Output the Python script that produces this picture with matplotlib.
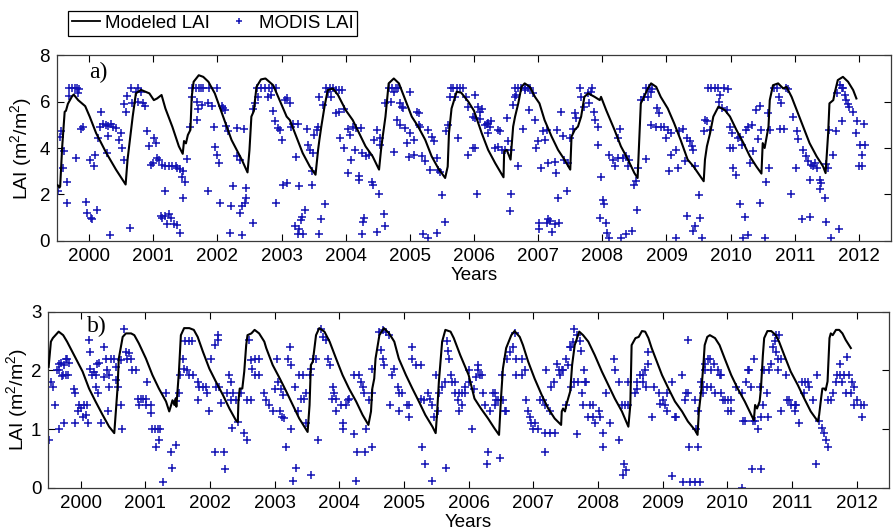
import matplotlib
matplotlib.use("Agg")
import matplotlib.pyplot as plt
from matplotlib.lines import Line2D

plt.rcParams['font.family'] = ['Liberation Sans', 'DejaVu Sans']
plt.rcParams['mathtext.fontset'] = 'custom'
plt.rcParams['mathtext.rm'] = 'Liberation Sans'

# ---------------- panel a) : modeled LAI ----------------
a_model_year = [1999.51, 1999.54, 1999.55, 1999.58, 1999.62, 1999.64, 1999.67, 1999.73, 1999.76,
                1999.83, 1999.94, 2000.01, 2000.11, 2000.27, 2000.42, 2000.57, 2000.60, 2000.68,
                2000.73, 2000.81, 2000.94, 2001.01, 2001.06, 2001.13, 2001.19, 2001.30, 2001.40,
                2001.46, 2001.48, 2001.51, 2001.54, 2001.58, 2001.60, 2001.63, 2001.71, 2001.78,
                2001.86, 2001.96, 2002.07, 2002.22, 2002.38, 2002.47, 2002.50, 2002.53, 2002.57,
                2002.58, 2002.61, 2002.68, 2002.75, 2002.87, 2002.97, 2003.08, 2003.13, 2003.23,
                2003.33, 2003.44, 2003.53, 2003.57, 2003.59, 2003.62, 2003.67, 2003.72, 2003.80,
                2003.88, 2004.00, 2004.11, 2004.21, 2004.31, 2004.42, 2004.52, 2004.55, 2004.57,
                2004.62, 2004.67, 2004.75, 2004.83, 2004.93, 2005.03, 2005.13, 2005.24, 2005.34,
                2005.44, 2005.55, 2005.59, 2005.61, 2005.65, 2005.73, 2005.80, 2005.91, 2006.00,
                2006.12, 2006.22, 2006.33, 2006.46, 2006.47, 2006.51, 2006.57, 2006.61, 2006.64,
                2006.69, 2006.74, 2006.79, 2006.87, 2006.95, 2007.02, 2007.10, 2007.21, 2007.31,
                2007.41, 2007.50, 2007.52, 2007.57, 2007.62, 2007.67, 2007.72, 2007.78, 2007.88,
                2007.96, 2007.98, 2008.06, 2008.19, 2008.29, 2008.40, 2008.50, 2008.55, 2008.58,
                2008.60, 2008.65, 2008.71, 2008.76, 2008.84, 2008.91, 2009.02, 2009.12, 2009.22,
                2009.33, 2009.42, 2009.58, 2009.60, 2009.63, 2009.68, 2009.73, 2009.81, 2009.91,
                2009.99, 2010.09, 2010.20, 2010.30, 2010.40, 2010.48, 2010.50, 2010.53, 2010.59,
                2010.61, 2010.66, 2010.74, 2010.82, 2010.87, 2010.95, 2011.03, 2011.13, 2011.23,
                2011.34, 2011.44, 2011.48, 2011.52, 2011.54, 2011.60, 2011.62, 2011.67, 2011.75,
                2011.83, 2011.91, 2011.96]
a_model_lai = [2.40, 2.30, 2.35, 4.00, 5.56, 5.60, 5.90, 6.20, 6.30,
               6.06, 5.80, 5.35, 4.64, 3.78, 3.07, 2.43, 3.50, 5.35,
               6.35, 6.50, 6.35, 6.06, 6.13, 6.28, 5.70, 4.90, 4.07,
               3.75, 4.30, 4.20, 4.56, 4.78, 6.20, 6.85, 7.13, 7.06,
               6.85, 6.35, 5.50, 4.35, 3.50, 2.95, 3.90, 5.35, 5.60,
               5.90, 6.63, 6.95, 6.99, 6.70, 6.06, 5.35, 5.20, 4.49,
               3.78, 3.21, 2.85, 3.92, 4.35, 4.92, 5.78, 6.49, 6.56,
               6.28, 5.63, 5.20, 4.64, 4.07, 3.64, 3.07, 3.90, 4.35,
               5.35, 6.78, 6.99, 6.78, 6.06, 5.35, 4.92, 4.35, 3.64,
               3.14, 2.71, 3.20, 4.64, 5.70, 6.42, 6.38, 6.00, 5.60,
               4.64, 3.92, 3.35, 2.74, 3.85, 3.92, 3.50, 4.92, 5.35,
               5.92, 6.63, 6.78, 6.63, 6.20, 5.92, 5.20, 4.49, 3.92,
               3.50, 3.07, 4.49, 4.78, 4.92, 5.35, 6.20, 6.35, 6.20,
               6.06, 6.20, 5.63, 4.78, 4.07, 3.50, 2.92, 2.71, 4.64,
               5.92, 6.20, 6.56, 6.78, 6.63, 6.20, 5.70, 5.06, 4.35,
               3.50, 3.21, 2.57, 3.50, 4.07, 4.64, 5.35, 5.78, 5.63,
               5.35, 4.78, 4.21, 3.64, 3.21, 2.90, 4.21, 4.00, 4.92,
               6.06, 6.70, 6.78, 6.56, 6.63, 6.20, 5.63, 4.92, 4.21,
               3.64, 3.21, 2.92, 4.64, 5.92, 6.06, 6.35, 6.92, 7.06,
               6.85, 6.49, 6.13]

# ---------------- panel a) : MODIS LAI ----------------
a_modis_year = [
    1999.52, 1999.55, 1999.57, 1999.60, 1999.61, 1999.65, 1999.66, 1999.68, 1999.69, 1999.73,
    1999.78, 1999.81, 1999.85, 1999.83, 1999.91, 1999.88, 1999.80, 2000.01, 2000.07, 2000.10,
    2000.14, 1999.95, 1999.97, 2000.03, 2000.05, 2000.12, 2000.17, 2000.22, 2000.26, 2000.29,
    2000.34, 2000.38, 2000.42, 2000.19, 2000.29, 2000.28, 2000.33, 2000.47, 2000.50, 2000.52,
    2000.55, 2000.55, 2000.58, 2000.59, 2000.64, 2000.65, 2000.76, 2000.73, 2000.81, 2000.67,
    2000.76, 2000.84, 2000.87, 2000.91, 2000.94, 2000.96, 2000.99, 2001.01, 2001.04, 2001.06,
    2001.09, 2001.14, 2001.19, 2001.24, 2001.30, 2001.35, 2001.37, 2001.42, 2001.46, 2001.45,
    2001.49, 2001.47, 2001.53, 2001.19, 2001.12, 2001.14, 2001.19, 2001.24, 2001.27, 2001.22,
    2001.32, 2001.37, 2001.42, 2001.58, 2001.60, 2001.61, 2001.66, 2001.71, 2001.75, 2001.78,
    2001.87, 2001.99, 2001.68, 2001.70, 2001.68, 2001.76, 2001.85, 2001.91, 2001.94, 2001.85,
    2001.96, 2001.99, 2002.02, 2002.07, 2002.09, 2002.12, 2002.14, 2002.17, 2002.30, 2002.04,
    2002.21, 2002.35, 2002.38, 2002.43, 2002.25, 2002.31, 2002.35, 2002.20, 2002.38, 2002.44,
    2002.45, 2002.41, 2002.56, 2002.55, 2002.58, 2002.61, 2002.63, 2002.68, 2002.74, 2002.79,
    2002.81, 2002.85, 2002.91, 2002.83, 2002.87, 2002.90, 2002.95, 2002.97, 2003.00, 2003.05,
    2003.08, 2003.13, 2003.15, 2003.18, 2003.26, 2003.22, 2003.02, 2003.09, 2002.91, 2003.27,
    2003.39, 2003.41, 2003.44, 2003.49, 2003.47, 2003.47, 2003.36, 2003.32, 2003.31, 2003.28,
    2003.21, 2003.26, 2003.34, 2003.59, 2003.62, 2003.67, 2003.51, 2003.55, 2003.57, 2003.59,
    2003.64, 2003.69, 2003.75, 2003.80, 2003.85, 2003.90, 2003.94, 2003.72, 2003.77, 2003.85,
    2003.90, 2003.98, 2004.03, 2004.06, 2004.11, 2004.16, 2004.24, 2003.91, 2003.98, 2004.08,
    2004.15, 2004.26, 2004.31, 2004.36, 2004.04, 2004.21, 2004.21, 2004.41, 2004.43, 2004.52,
    2004.44, 2004.54, 2004.53, 2004.49, 2004.29, 2004.27, 2004.26, 2004.49, 2004.61, 2004.60,
    2004.62, 2004.67, 2004.72, 2004.78, 2004.82, 2004.70, 2004.75, 2004.85, 2004.88, 2004.90,
    2004.80, 2004.85, 2004.75, 2005.00, 2004.92, 2005.01, 2004.96, 2005.11, 2005.14, 2005.06,
    2005.14, 2005.16, 2004.98, 2005.06, 2005.19, 2005.24, 2005.29, 2005.34, 2005.37, 2005.32,
    2005.42, 2005.44, 2005.47, 2005.50, 2005.21, 2005.29, 2005.42, 2005.55, 2005.57, 2005.60,
    2005.62, 2005.64, 2005.68, 2005.73, 2005.78, 2005.83, 2005.70, 2005.87, 2005.91, 2005.99,
    2005.75, 2005.99, 2005.91, 2006.01, 2006.05, 2006.07, 2006.09, 2006.12, 2006.02, 2006.09,
    2006.02, 2006.17, 2006.20, 2006.22, 2006.27, 2006.25, 2006.22, 2006.38, 2006.40, 2006.33,
    2006.37, 2006.43, 2006.48, 2006.51, 2006.53, 2006.58, 2006.61, 2006.64, 2006.58, 2006.56,
    2006.68, 2006.64, 2006.69, 2006.74, 2006.79, 2006.84, 2006.87, 2006.66, 2006.79, 2006.92,
    2006.77, 2006.85, 2006.95, 2006.97, 2007.00, 2007.05, 2007.08, 2007.10, 2007.13, 2007.16,
    2007.26, 2007.28, 2007.15, 2007.19, 2007.14, 2007.26, 2007.33, 2007.22, 2007.02, 2007.01,
    2007.31, 2007.45, 2007.35, 2007.30, 2007.39, 2007.41, 2007.46, 2007.50, 2007.55, 2007.57,
    2007.59, 2007.65, 2007.84, 2007.67, 2007.72, 2007.77, 2007.80, 2007.83, 2007.87, 2007.88,
    2007.94, 2007.94, 2007.98, 2008.01, 2008.03, 2007.97, 2008.06, 2008.08, 2008.11, 2008.27,
    2008.24, 2008.11, 2008.16, 2008.19, 2008.24, 2008.32, 2008.37, 2008.42, 2008.40, 2008.29,
    2008.37, 2008.47, 2008.52, 2008.50, 2008.54, 2008.56, 2008.68, 2008.60, 2008.65, 2008.68,
    2008.73, 2008.78, 2008.71, 2008.76, 2008.86, 2008.89, 2008.76, 2008.83, 2008.91, 2008.96,
    2008.99, 2009.02, 2009.07, 2009.07, 2009.15, 2009.04, 2009.18, 2009.20, 2009.25, 2009.15,
    2009.32, 2009.32, 2009.37, 2009.39, 2009.42, 2009.45, 2009.29, 2009.50, 2009.45, 2009.42,
    2009.52, 2009.55, 2009.60, 2009.63, 2009.59, 2009.68, 2009.65, 2009.70, 2009.76, 2009.81,
    2009.89, 2009.96, 2009.83, 2009.82, 2009.86, 2009.94, 2009.99, 2010.02, 2009.99, 2010.04,
    2010.04, 2010.09, 2010.12, 2010.15, 2010.17, 2010.24, 2010.27, 2010.33, 2010.30, 2010.35,
    2010.39, 2010.45, 2010.43, 2010.48, 2010.55, 2010.46, 2010.15, 2010.22, 2010.20, 2010.27,
    2010.53, 2010.59, 2010.61, 2010.60, 2010.67, 2010.72, 2010.86, 2010.90, 2010.75, 2010.79,
    2010.77, 2010.83, 2010.97, 2011.03, 2011.05, 2011.02, 2010.94, 2011.13, 2011.18, 2011.21,
    2011.26, 2011.28, 2011.34, 2011.31, 2011.23, 2011.39, 2011.39, 2011.41, 2011.47, 2011.12,
    2011.23, 2011.48, 2011.57, 2011.69, 2011.49, 2011.52, 2011.54, 2011.60, 2011.64, 2011.65,
    2011.70, 2011.73, 2011.75, 2011.73, 2011.78, 2011.80, 2011.83, 2011.85, 2011.91, 2011.95,
    2011.97, 2012.08, 2012.01, 2012.10, 2012.04, 2012.00, 2012.05]
a_modis_lai = [
    2.14, 4.47, 4.75, 3.14, 3.85, 1.64, 2.52, 6.23, 6.60, 6.60,
    6.60, 6.60, 6.52, 6.35, 4.92, 4.82, 3.57, 3.50, 3.24, 3.70,
    4.42, 1.67, 1.21, 1.00, 0.93, 1.33, 4.92, 5.04, 5.00, 4.95,
    5.04, 4.92, 4.85, 5.56, 4.52, 3.78, 0.24, 4.35, 4.64, 4.00,
    3.50, 5.90, 5.56, 6.23, 0.54, 6.60, 6.60, 6.42, 6.42, 5.92,
    5.99, 5.92, 5.80, 4.74, 4.07, 3.28, 3.35, 4.42, 4.21, 3.57,
    3.50, 3.28, 3.24, 3.24, 3.21, 3.21, 3.14, 3.10, 3.00, 2.74,
    2.52, 1.85, 3.52, 2.14, 1.07, 1.00, 1.07, 1.14, 1.00, 0.71,
    0.71, 0.67, 0.36, 4.89, 6.20, 6.60, 6.60, 6.60, 6.60, 6.60,
    6.60, 6.60, 6.00, 5.66, 5.20, 5.85, 5.92, 5.82, 4.92, 2.14,
    4.04, 3.71, 3.35, 5.80, 5.70, 5.63, 4.95, 4.71, 4.88, 1.64,
    1.50, 1.21, 1.50, 1.64, 2.35, 3.64, 3.50, 0.36, 0.24, 2.28,
    1.85, 4.82, 0.76, 5.68, 5.92, 6.60, 6.20, 6.60, 6.60, 6.20,
    6.60, 6.60, 6.60, 6.28, 5.60, 5.14, 4.85, 4.78, 4.35, 6.06,
    6.13, 5.92, 4.92, 5.04, 5.04, 3.61, 2.43, 2.50, 1.64, 2.35,
    4.82, 4.14, 3.92, 3.78, 3.00, 2.43, 1.33, 1.04, 0.90, 0.50,
    0.64, 0.29, 0.29, 0.29, 0.93, 1.57, 4.56, 4.78, 4.92, 6.20,
    5.85, 6.60, 6.60, 6.60, 6.49, 6.49, 6.49, 6.42, 6.20, 5.52,
    5.56, 5.66, 4.81, 4.56, 4.89, 4.85, 4.85, 4.42, 4.00, 3.50,
    3.92, 3.78, 3.64, 3.71, 2.92, 2.81, 2.61, 2.52, 2.43, 2.04,
    4.35, 4.42, 4.14, 4.78, 1.00, 0.81, 0.29, 0.39, 0.64, 1.14,
    5.92, 6.60, 6.60, 6.60, 6.60, 6.00, 6.42, 5.92, 5.75, 5.70,
    5.20, 5.00, 3.81, 6.42, 4.85, 4.64, 4.21, 5.56, 5.50, 4.35,
    5.00, 4.92, 3.61, 3.71, 3.64, 3.42, 4.78, 4.49, 4.28, 3.04,
    3.57, 3.04, 2.95, 1.97, 0.29, 0.14, 0.36, 0.83, 4.71, 5.00,
    6.20, 6.60, 6.60, 6.60, 6.60, 6.60, 6.20, 6.20, 5.78, 5.35,
    4.42, 4.00, 3.71, 6.28, 2.04, 5.78, 5.56, 5.66, 5.28, 5.24,
    4.00, 5.00, 5.04, 5.09, 5.14, 4.92, 4.64, 4.78, 4.71, 4.00,
    4.04, 3.92, 3.92, 5.28, 4.28, 3.92, 5.85, 6.20, 2.04, 1.31,
    3.24, 6.60, 6.60, 6.60, 6.60, 6.60, 6.60, 6.28, 6.49, 6.35,
    4.81, 5.63, 5.21, 4.00, 4.28, 3.14, 4.71, 4.35, 4.78, 3.35,
    3.38, 2.92, 0.93, 0.86, 0.78, 0.71, 0.78, 0.39, 0.76, 0.50,
    1.85, 2.14, 5.53, 4.78, 4.52, 3.47, 3.35, 4.42, 4.81, 5.49,
    5.31, 6.60, 6.60, 6.20, 5.78, 6.35, 5.92, 6.42, 5.56, 5.20,
    4.89, 4.14, 2.74, 1.78, 1.57, 1.00, 0.78, 0.36, 0.14, 4.82,
    4.42, 3.71, 3.50, 3.21, 3.57, 3.57, 3.64, 3.50, 3.21, 0.14,
    0.29, 0.43, 2.57, 2.43, 1.33, 3.14, 3.52, 6.06, 6.20, 6.60,
    6.60, 6.52, 6.20, 6.42, 5.70, 5.49, 5.00, 4.92, 4.92, 4.92,
    4.42, 4.78, 4.66, 3.71, 3.92, 3.00, 3.14, 4.75, 4.81, 0.14,
    1.07, 4.42, 4.28, 4.07, 3.92, 3.21, 3.42, 1.97, 0.64, 0.43,
    1.00, 0.14, 5.21, 5.14, 4.75, 4.78, 6.56, 6.60, 6.60, 6.60,
    6.60, 6.52, 6.28, 5.99, 5.70, 5.63, 4.92, 4.64, 4.00, 4.00,
    3.14, 2.85, 4.42, 4.47, 4.14, 4.78, 4.89, 5.00, 3.35, 3.85,
    5.63, 5.80, 4.38, 4.78, 2.52, 1.64, 1.57, 1.03, 0.14, 0.24,
    0.14, 5.49, 4.78, 3.14, 6.60, 6.60, 6.60, 6.52, 6.20, 5.92,
    4.82, 4.81, 5.35, 4.75, 4.38, 3.14, 2.04, 3.92, 3.64, 3.42,
    3.28, 3.21, 3.14, 3.35, 2.64, 2.64, 2.24, 2.50, 1.83, 0.93,
    1.04, 0.83, 0.14, 0.53, 3.32, 3.14, 4.78, 3.71, 4.74, 6.35,
    6.70, 6.60, 6.60, 5.14, 6.28, 6.06, 5.89, 5.78, 5.56, 4.64,
    5.14, 5.04, 4.14, 4.14, 3.71, 3.24, 3.24]

# ---------------- panel b) : modeled LAI ----------------
b_model_year = [1999.505, 1999.54, 1999.57, 1999.66, 1999.73, 1999.79, 1999.87, 1999.95, 2000.03,
                2000.13, 2000.23, 2000.34, 2000.44, 2000.52, 2000.54, 2000.57, 2000.59, 2000.65,
                2000.70, 2000.78, 2000.83, 2000.90, 2001.01, 2001.11, 2001.21, 2001.32, 2001.37,
                2001.40, 2001.42, 2001.45, 2001.47, 2001.48, 2001.52, 2001.55, 2001.60, 2001.68,
                2001.75, 2001.81, 2001.89, 2001.99, 2002.09, 2002.20, 2002.30, 2002.40, 2002.43,
                2002.44, 2002.46, 2002.50, 2002.53, 2002.56, 2002.58, 2002.64, 2002.69, 2002.76,
                2002.84, 2002.87, 2002.97, 2003.08, 2003.18, 2003.28, 2003.38, 2003.51, 2003.54,
                2003.56, 2003.59, 2003.64, 2003.69, 2003.77, 2003.85, 2003.95, 2004.05, 2004.15,
                2004.26, 2004.36, 2004.45, 2004.49, 2004.51, 2004.54, 2004.56, 2004.62, 2004.69,
                2004.77, 2004.85, 2004.92, 2005.03, 2005.13, 2005.23, 2005.33, 2005.44, 2005.49,
                2005.51, 2005.54, 2005.59, 2005.64, 2005.72, 2005.77, 2005.87, 2006.00, 2006.09,
                2006.19, 2006.30, 2006.40, 2006.47, 2006.50, 2006.53, 2006.58, 2006.66, 2006.71,
                2006.79, 2006.84, 2006.92, 2007.02, 2007.13, 2007.23, 2007.33, 2007.43, 2007.44,
                2007.46, 2007.49, 2007.51, 2007.57, 2007.60, 2007.64, 2007.71, 2007.77, 2007.85,
                2007.95, 2008.06, 2008.16, 2008.26, 2008.37, 2008.47, 2008.50, 2008.52, 2008.58,
                2008.63, 2008.68, 2008.73, 2008.78, 2008.83, 2008.91, 2008.99, 2009.09, 2009.19,
                2009.30, 2009.39, 2009.50, 2009.54, 2009.56, 2009.60, 2009.63, 2009.65, 2009.69,
                2009.73, 2009.81, 2009.88, 2009.96, 2010.06, 2010.16, 2010.27, 2010.37, 2010.41,
                2010.43, 2010.46, 2010.50, 2010.52, 2010.55, 2010.57, 2010.62, 2010.68, 2010.75,
                2010.80, 2010.88, 2010.98, 2011.09, 2011.19, 2011.29, 2011.40, 2011.42, 2011.45,
                2011.47, 2011.50, 2011.52, 2011.55, 2011.58, 2011.60, 2011.63, 2011.68, 2011.73,
                2011.78, 2011.83, 2011.91]
b_model_lai = [2.06, 2.49, 2.55, 2.66, 2.60, 2.49, 2.32, 2.15, 1.98,
               1.69, 1.47, 1.24, 1.04, 0.93, 1.24, 1.69, 2.20, 2.57,
               2.63, 2.63, 2.60, 2.46, 2.20, 1.92, 1.69, 1.47, 1.30,
               1.41, 1.49, 1.41, 1.52, 1.38, 1.98, 2.60, 2.72, 2.72,
               2.69, 2.57, 2.32, 2.03, 1.81, 1.58, 1.35, 1.15, 1.12,
               1.47, 1.69, 1.69, 1.98, 2.43, 2.60, 2.63, 2.69, 2.63,
               2.49, 2.38, 2.09, 1.86, 1.64, 1.41, 1.18, 0.95, 1.41,
               2.09, 2.15, 2.60, 2.72, 2.66, 2.49, 2.20, 1.92, 1.69,
               1.47, 1.24, 1.07, 1.30, 1.69, 1.86, 2.20, 2.60, 2.72,
               2.63, 2.49, 2.20, 1.92, 1.69, 1.47, 1.24, 1.04, 0.93,
               1.24, 1.81, 2.49, 2.69, 2.66, 2.55, 2.26, 1.92, 1.52,
               1.35, 1.18, 1.01, 0.90, 1.52, 2.03, 2.38, 2.60, 2.67,
               2.57, 2.43, 2.15, 1.86, 1.58, 1.35, 1.18, 1.07, 1.30,
               1.35, 1.30, 1.41, 1.64, 2.09, 2.43, 2.66, 2.60, 2.49,
               2.26, 1.98, 1.75, 1.52, 1.30, 1.04, 1.41, 2.43, 2.55,
               2.57, 2.67, 2.66, 2.55, 2.38, 2.15, 1.92, 1.69, 1.47,
               1.30, 1.13, 0.98, 0.90, 1.30, 1.69, 2.09, 2.43, 2.57,
               2.60, 2.55, 2.43, 2.20, 1.92, 1.69, 1.47, 1.24, 1.15,
               1.41, 1.35, 1.47, 1.69, 2.26, 2.55, 2.67, 2.67, 2.60,
               2.49, 2.26, 1.98, 1.75, 1.52, 1.30, 1.13, 1.24, 1.52,
               1.69, 1.69, 1.66, 1.81, 2.55, 2.63, 2.60, 2.69, 2.69,
               2.63, 2.52, 2.38]

# ---------------- panel b) : MODIS LAI ----------------
b_modis_year = [
    1999.51, 1999.54, 1999.57, 1999.61, 1999.63, 1999.66, 1999.67, 1999.74, 1999.71, 1999.78,
    1999.69, 1999.66, 1999.72, 1999.77, 1999.81, 1999.74, 1999.82, 1999.79, 1999.90, 1999.92,
    1999.91, 1999.97, 1999.96, 2000.00, 2000.05, 2000.10, 2000.03, 2000.08, 2000.12, 2000.15,
    2000.17, 2000.21, 2000.23, 2000.13, 2000.15, 2000.26, 2000.28, 2000.24, 2000.27, 2000.36,
    2000.39, 2000.47, 2000.52, 2000.36, 2000.41, 2000.44, 2000.54, 2000.54, 2000.57, 2000.44,
    2000.43, 2000.31, 2000.62, 2000.64, 2000.62, 2000.67, 2000.70, 2000.72, 2000.78, 2000.75,
    2000.80, 2000.85, 2001.03, 2000.88, 2000.93, 2000.97, 2001.01, 2000.90, 2001.01, 2001.09,
    2001.09, 2001.11, 2001.15, 2001.19, 2001.22, 2001.21, 2001.16, 2001.27, 2001.32, 2001.40,
    2001.42, 2001.47, 2001.48, 2001.52, 2001.53, 2001.58, 2001.60, 2001.65, 2001.68, 2001.73,
    2001.62, 2001.67, 2001.72, 2001.81, 2001.83, 2001.89, 2001.94, 2001.96, 2001.82, 2001.99,
    2002.02, 2002.08, 2002.12, 2002.12, 2002.09, 2002.14, 2002.07, 2002.22, 2002.24, 2002.17,
    2002.30, 2002.33, 2002.26, 2002.35, 2002.33, 2002.40, 2002.34, 2002.44, 2002.48, 2002.53,
    2002.57, 2002.61, 2002.64, 2002.69, 2002.76, 2002.65, 2002.69, 2002.76, 2002.84, 2002.87,
    2002.58, 2002.64, 2002.92, 2002.97, 2003.00, 2003.05, 2003.10, 2003.03, 2003.13, 2003.08,
    2003.12, 2003.15, 2003.21, 2003.23, 2003.26, 2003.18, 2003.26, 2003.31, 2003.33, 2003.29,
    2003.36, 2003.38, 2003.44, 2003.41, 2003.46, 2003.49, 2003.48, 2003.54, 2003.56, 2003.59,
    2003.64, 2003.56, 2003.67, 2003.72, 2003.75, 2003.79, 2003.82, 2003.85, 2003.90, 2003.92,
    2003.89, 2003.95, 2004.03, 2004.10, 2004.13, 2003.95, 2004.05, 2004.05, 2004.15, 2004.22,
    2004.23, 2004.31, 2004.28, 2004.40, 2004.51, 2004.26, 2004.33, 2004.36, 2004.38, 2004.41,
    2004.46, 2004.51, 2004.50, 2004.62, 2004.67, 2004.72, 2004.64, 2004.67, 2004.69, 2004.77,
    2004.82, 2004.85, 2004.79, 2004.90, 2004.92, 2004.97, 2004.92, 2005.05, 2005.08, 2005.08,
    2005.13, 2005.13, 2005.18, 2005.26, 2005.26, 2005.31, 2005.28, 2005.32, 2005.37, 2005.41,
    2005.44, 2005.43, 2005.50, 2005.54, 2005.46, 2005.53, 2005.59, 2005.64, 2005.65, 2005.67,
    2005.68, 2005.69, 2005.72, 2005.75, 2005.79, 2005.79, 2005.85, 2005.90, 2005.95, 2005.84,
    2005.85, 2005.90, 2005.95, 2006.01, 2006.01, 2006.08, 2006.11, 2006.14, 2006.05, 2006.14,
    2006.17, 2006.20, 2006.22, 2006.25, 2006.33, 2006.38, 2006.40, 2006.43, 2006.45, 2006.40,
    2006.51, 2006.53, 2006.56, 2006.58, 2006.30, 2006.29, 2006.48, 2006.60, 2006.64, 2006.69,
    2006.71, 2006.74, 2006.82, 2006.74, 2006.82, 2006.87, 2006.89, 2006.92, 2006.95, 2006.97,
    2007.02, 2007.00, 2007.07, 2007.10, 2007.15, 2007.18, 2007.18, 2007.26, 2007.33, 2007.20,
    2007.18, 2007.26, 2007.28, 2007.32, 2007.36, 2007.39, 2007.44, 2007.46, 2007.41, 2007.50,
    2007.59, 2007.63, 2007.51, 2007.57, 2007.59, 2007.62, 2007.54, 2007.63, 2007.67, 2007.72,
    2007.74, 2007.69, 2007.75, 2007.79, 2007.80, 2007.82, 2007.77, 2007.88, 2007.93, 2007.85,
    2007.93, 2008.02, 2007.95, 2008.03, 2008.08, 2008.08, 2007.67, 2008.13, 2008.19, 2008.24,
    2008.26, 2008.32, 2008.33, 2008.37, 2008.42, 2008.47, 2008.41, 2008.44, 2008.39, 2008.46,
    2008.57, 2008.61, 2008.60, 2008.65, 2008.70, 2008.73, 2008.77, 2008.78, 2008.70, 2008.74,
    2008.83, 2008.87, 2008.94, 2008.96, 2009.01, 2009.04, 2009.06, 2009.06, 2009.14, 2009.19,
    2009.21, 2009.30, 2009.15, 2009.32, 2009.39, 2009.36, 2009.40, 2009.39, 2009.34, 2009.50,
    2009.54, 2009.52, 2009.55, 2009.42, 2009.50, 2009.57, 2009.60, 2009.63, 2009.63, 2009.69,
    2009.75, 2009.65, 2009.66, 2009.70, 2009.73, 2009.75, 2009.79, 2009.81, 2009.86, 2009.88,
    2009.91, 2009.91, 2009.93, 2009.96, 2010.01, 2010.06, 2010.01, 2010.06, 2010.14, 2010.22,
    2010.24, 2010.27, 2010.29, 2010.32, 2010.34, 2010.37, 2010.40, 2010.43, 2010.42, 2010.47,
    2010.50, 2010.52, 2010.55, 2010.62, 2010.63, 2010.38, 2010.52, 2010.22, 2010.57, 2010.65,
    2010.67, 2010.70, 2010.73, 2010.75, 2010.80, 2010.75, 2010.78, 2010.83, 2010.78, 2010.83,
    2010.91, 2010.93, 2010.96, 2010.98, 2011.04, 2011.06, 2011.04, 2011.11, 2011.16, 2011.20,
    2011.24, 2011.19, 2011.27, 2011.32, 2011.38, 2011.37, 2011.42, 2011.47, 2011.50, 2011.52,
    2011.55, 2011.55, 2011.60, 2011.63, 2011.68, 2011.70, 2011.74, 2011.78, 2011.75, 2011.81,
    2011.83, 2011.85, 2011.88, 2011.91, 2011.93, 2011.96, 2011.96, 2012.01, 2012.06, 2012.11,
    2012.09]
b_modis_lai = [
    0.81, 1.80, 1.71, 1.41, 2.00, 1.00, 2.10, 1.10, 1.90, 2.20,
    2.12, 2.00, 1.92, 1.92, 1.92, 2.09, 2.12, 2.20, 1.69, 1.61,
    1.10, 1.41, 1.31, 1.35, 1.41, 1.41, 1.21, 1.24, 1.10, 2.03,
    1.92, 1.98, 1.92, 2.52, 2.32, 2.10, 2.12, 1.72, 1.61, 2.40,
    2.20, 2.20, 2.20, 1.89, 2.00, 1.92, 2.06, 1.84, 1.72, 1.72,
    1.30, 1.10, 1.41, 1.00, 2.18, 2.70, 2.32, 2.20, 2.20, 2.29,
    2.00, 2.00, 1.81, 1.51, 1.51, 1.51, 1.51, 1.41, 1.41, 1.41,
    1.27, 1.00, 1.00, 1.00, 1.00, 0.81, 0.70, 0.10, 1.61, 0.61,
    0.33, 0.72, 1.48, 1.61, 1.92, 2.20, 2.03, 2.00, 1.92, 1.92,
    2.50, 2.50, 2.50, 1.81, 1.72, 1.72, 1.72, 1.61, 1.49, 1.30,
    2.20, 2.44, 2.61, 2.52, 1.72, 1.72, 0.61, 0.61, 0.31, 1.44,
    1.92, 1.80, 1.61, 1.61, 1.49, 1.49, 1.01, 1.12, 1.61, 0.93,
    0.81, 2.52, 2.18, 2.20, 2.20, 2.03, 1.92, 1.92, 1.61, 1.49,
    1.49, 1.49, 1.41, 1.31, 1.69, 1.81, 1.69, 2.20, 1.58, 1.31,
    1.21, 1.18, 2.20, 2.40, 2.09, 0.70, 1.00, 1.72, 0.33, 0.11,
    1.31, 1.92, 1.92, 1.52, 1.52, 1.61, 1.10, 1.92, 2.03, 2.20,
    2.20, 0.22, 0.81, 2.70, 2.57, 2.52, 2.20, 2.09, 1.72, 1.61,
    1.51, 1.51, 1.41, 1.41, 1.49, 1.31, 1.11, 1.00, 1.51, 0.91,
    1.92, 1.92, 0.61, 0.61, 0.70, 0.11, 1.81, 1.72, 1.61, 1.00,
    1.49, 1.61, 2.03, 2.66, 2.69, 2.66, 2.35, 2.20, 2.09, 2.60,
    1.92, 2.03, 1.41, 1.72, 1.61, 1.61, 1.31, 1.41, 1.41, 1.21,
    2.20, 2.40, 2.09, 2.09, 1.52, 1.49, 0.70, 0.41, 1.61, 1.52,
    1.41, 0.11, 1.92, 1.61, 1.21, 1.30, 1.72, 1.81, 0.33, 2.50,
    2.33, 2.20, 1.92, 1.81, 1.81, 1.61, 1.61, 1.61, 1.61, 1.49,
    1.31, 1.41, 1.72, 1.81, 2.00, 1.69, 1.89, 2.09, 1.00, 2.00,
    1.92, 1.92, 1.61, 1.41, 1.30, 1.61, 1.62, 1.49, 1.49, 1.41,
    1.92, 1.49, 1.31, 1.31, 0.61, 0.40, 0.50, 2.20, 2.32, 2.40,
    2.63, 2.20, 2.20, 1.92, 1.92, 2.00, 1.49, 1.31, 1.21, 1.11,
    1.11, 1.00, 1.00, 1.49, 1.49, 1.41, 0.93, 0.93, 0.93, 2.00,
    0.61, 1.31, 1.72, 1.81, 2.10, 2.00, 2.00, 2.00, 1.92, 1.41,
    1.72, 1.81, 2.20, 2.40, 2.40, 2.49, 2.09, 2.70, 2.61, 2.50,
    2.33, 1.81, 1.61, 2.00, 1.81, 1.81, 1.41, 1.41, 1.41, 1.21,
    1.21, 1.31, 1.11, 1.21, 0.93, 0.70, 0.91, 1.61, 1.11, 2.20,
    2.00, 1.81, 0.81, 1.41, 1.41, 1.41, 0.41, 0.30, 0.22, 1.81,
    1.61, 1.69, 1.81, 1.92, 1.92, 2.00, 2.32, 2.10, 1.80, 1.72,
    1.21, 1.72, 1.61, 1.42, 1.49, 1.41, 1.31, 1.61, 1.81, 1.21,
    1.21, 1.92, 0.20, 0.10, 2.52, 1.61, 0.70, 1.61, 1.49, 1.49,
    1.31, 1.00, 0.70, 0.10, 0.10, 0.10, 1.81, 1.61, 1.72, 1.72,
    1.72, 2.00, 2.10, 2.20, 2.20, 2.00, 2.10, 1.61, 2.00, 1.92,
    1.92, 1.61, 1.49, 1.49, 1.49, 1.49, 1.31, 1.31, 1.72, 1.61,
    1.13, 1.13, 1.81, 2.00, 2.00, 1.72, 1.13, 1.13, 2.20, 1.00,
    1.72, 1.21, 1.41, 1.61, 1.21, 0.31, 0.31, 0.00, 2.00, 2.00,
    2.10, 2.40, 2.50, 2.60, 2.60, 2.32, 2.20, 2.20, 2.00, 1.31,
    1.92, 1.49, 1.49, 1.41, 1.41, 1.41, 1.31, 1.10, 1.81, 1.81,
    1.81, 1.61, 1.72, 1.49, 1.92, 0.41, 1.13, 1.01, 0.93, 0.81,
    0.70, 1.49, 1.49, 1.61, 1.81, 1.92, 2.10, 1.81, 1.92, 1.92,
    1.61, 2.22, 1.92, 1.61, 1.81, 1.72, 1.41, 1.49, 1.41, 1.41,
    1.21]

year_ticks = list(range(2000, 2013))
year_labels = [str(y) for y in year_ticks]
a_yticks = [0, 2, 4, 6, 8]
b_yticks = [0, 1, 2, 3]

modis_color = '#1212b4'
spine_color = '#3a3a3a'
ylabel_text = 'LAI (m$^2$/m$^2$)'

fig = plt.figure(figsize=(8.93, 5.32), dpi=100)
ax_a = fig.add_axes([0.0638, 0.547, 0.934, 0.3496])
ax_b = fig.add_axes([0.0541, 0.0833, 0.9414, 0.3308])


def style_axis(ax, yticks, ylim, label_x):
    ax.set_xlim(1999.5, 2012.5)
    ax.set_ylim(*ylim)
    ax.set_xticks(year_ticks)
    ax.set_xticklabels(year_labels)
    ax.set_yticks(yticks)
    ax.tick_params(direction='in', length=5, width=0.8, top=True, right=True,
                   labelsize=13.5, pad=5, colors='black')
    for sp in ax.spines.values():
        sp.set_color(spine_color)
        sp.set_linewidth(0.9)
    ax.set_xlabel('Years', fontsize=13.5, labelpad=1.5)
    ax.set_ylabel(ylabel_text, fontsize=14)
    ax.yaxis.set_label_coords(label_x, 0.5)


ax_a.plot(a_model_year, a_model_lai, color='black', lw=1.5, zorder=3)
ax_a.plot(a_modis_year, a_modis_lai, linestyle='none', marker='+', ms=5.5, mew=1.1,
          color=modis_color, zorder=2)
style_axis(ax_a, a_yticks, (0, 8), -0.026)
ax_a.text(2000.0, 7.25, 'a)', family=['Liberation Serif', 'DejaVu Serif'], fontsize=17,
          ha='left', va='center')

ax_b.plot(b_model_year, b_model_lai, color='black', lw=1.5, zorder=3)
ax_b.plot(b_modis_year, b_modis_lai, linestyle='none', marker='+', ms=5.5, mew=1.1,
          color=modis_color, zorder=2)
style_axis(ax_b, b_yticks, (0, 3), -0.021)
ax_b.text(2000.1, 2.74, 'b)', family=['Liberation Serif', 'DejaVu Serif'], fontsize=17,
          ha='left', va='center')

handles = [Line2D([], [], color='black', lw=1.3),
           Line2D([], [], linestyle='none', marker='+', ms=5, mew=1.1, color=modis_color)]
leg = fig.legend(handles, ['Modeled LAI', 'MODIS LAI'], loc='upper left',
                 bbox_to_anchor=(0.076, 0.979), ncol=2, fontsize=13.5, frameon=True,
                 fancybox=False, edgecolor='black', framealpha=1, borderpad=0.2,
                 handlelength=1.5, handletextpad=0.3, columnspacing=0.8, borderaxespad=0)
leg.get_frame().set_linewidth(0.9)

fig.savefig('out.png', dpi=100)
